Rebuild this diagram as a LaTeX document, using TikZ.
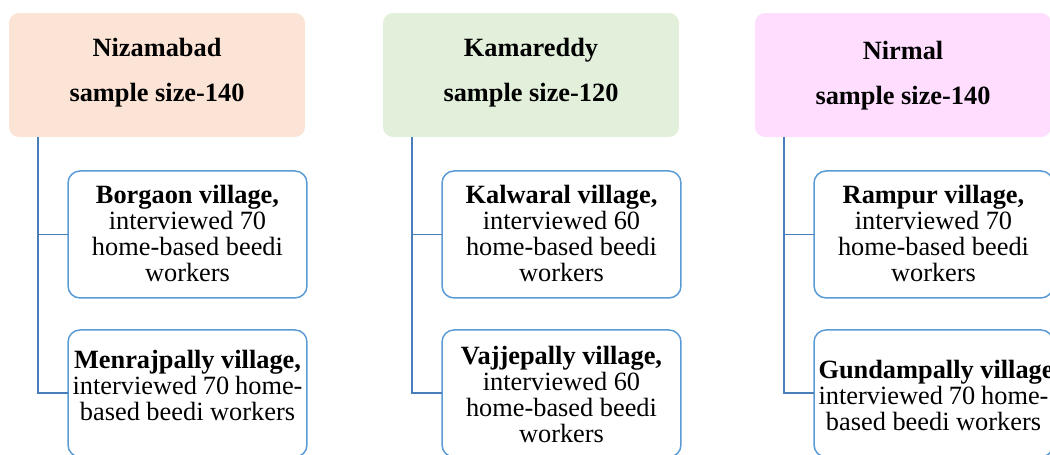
\documentclass[tikz,border=0pt]{standalone}
\usepackage{fontspec}
\setmainfont{Liberation Serif}
\usetikzlibrary{positioning}

\definecolor{peach}{HTML}{FBE4D5}
\definecolor{mint}{HTML}{E2EFDA}
\definecolor{orchid}{HTML}{FFDDFF}
\definecolor{linkblue}{HTML}{4A7EBB}
\definecolor{boxblue}{HTML}{5B9BD5}

% district heading and village text, top aligned
\newcommand{\disttext}[3][0.04cm]{\parbox[c][1.56cm][t]{5.6cm}{\centering\vspace*{#1}\fontsize{15}{26}\selectfont\bfseries #2\\#3\par}}
\newcommand{\villtext}[3][0pt]{\parbox[c][1.98cm][t]{4.6cm}{\centering\vspace*{#1}\fontsize{15}{14.8}\selectfont\mbox{\bfseries #2}\\#3\par}}

\begin{document}
\begin{tikzpicture}[x=0.02cm, y=-0.02cm]
        \useasboundingbox (0,0) rectangle (1050,454);
        \clip (0,0) rectangle (1050,454);
        \begin{scope}[every node/.style={rectangle, rounded corners=0.2cm, outer sep=0pt,
                      inner xsep=0.16cm, inner ysep=0.46cm}]
            \node (niz) [fill=peach] at (157, 75) {\disttext{Nizamabad}{sample size-140}} ;
            \node (kam) [fill=mint] at (531, 75) {\disttext{Kamareddy}{sample size-120}} ;
            \node (nir) [fill=orchid] at (903, 75) {\disttext[0.1cm]{Nirmal}{sample size-140}} ;
        \end{scope}
        \begin{scope}[every node/.style={rectangle, rounded corners=0.24cm, draw=boxblue,
                      line width=0.85pt, fill=white, outer sep=0pt, inner xsep=0.09cm, inner ysep=0.28cm}]
            \node (bor) [below right=0.68cm and 1.18cm of niz.south west]
                {\villtext{Borgaon village,}{interviewed 70\\home-based beedi\\workers}} ;
            \node (men) [below=0.64cm of bor]
                {\villtext[0.12cm]{Menrajpally village,}{interviewed 70 home-\\based beedi workers}} ;
            \node (kal) [below right=0.68cm and 1.18cm of kam.south west]
                {\villtext{Kalwaral village,}{interviewed 60\\home-based beedi\\workers}} ;
            \node (vaj) [below=0.64cm of kal]
                {\villtext[0.04cm]{Vajjepally village,}{interviewed 60\\home-based beedi\\workers}} ;
            \node (ram) [below right=0.68cm and 1.18cm of nir.south west]
                {\villtext{Rampur village,}{interviewed 70\\home-based beedi\\workers}} ;
            \node (gun) [below=0.64cm of ram]
                {\villtext[0.32cm]{Gundampally village,}{interviewed 70 home-\\based beedi workers}} ;
        \end{scope}

        \begin{scope}[every path/.style={draw=linkblue, line width=1.1pt}]
            \coordinate (nizroot) at ([xshift=0.58cm]niz.south west);
            \coordinate (kamroot) at ([xshift=0.58cm]kam.south west);
            \coordinate (nirroot) at ([xshift=0.58cm]nir.south west);
            \draw (nizroot) |- (bor.west);
            \draw (nizroot) |- (men.west);
            \draw (kamroot) |- (kal.west);
            \draw (kamroot) |- (vaj.west);
            \draw (nirroot) |- (ram.west);
            \draw (nirroot) |- (gun.west);
        \end{scope}
    \end{tikzpicture}
\end{document}
